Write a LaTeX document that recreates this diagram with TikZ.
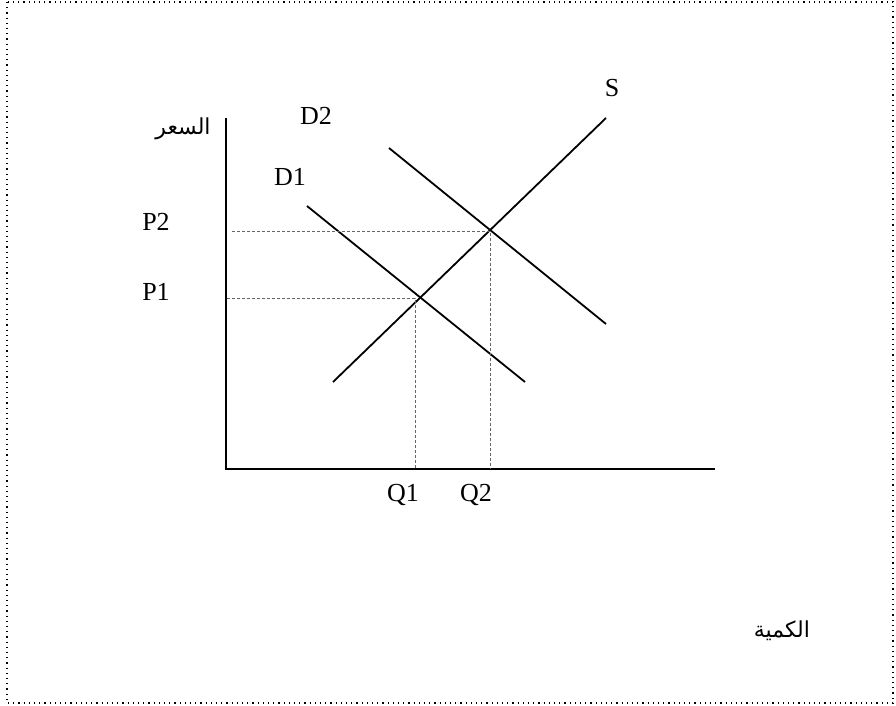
\documentclass[tikz,border=0pt]{standalone}
\usepackage{fontspec}
\setmainfont{Liberation Serif}
\newfontfamily\arabicfont[Script=Arabic]{DejaVu Sans}
\TeXXeTstate=1
\usetikzlibrary{positioning}

\begin{document}
\begin{tikzpicture}[x=0.5pt, y=-0.5pt, font=\fontsize{13}{15}\selectfont,
    axis/.style={line width=1pt},
    curve/.style={line width=0.9pt},
    guide/.style={line width=0.4pt, gray!80!black, dash pattern=on 1.5pt off 1pt},
    lbl/.style={inner sep=0pt},
    arlbl/.style={inner sep=0pt, font=\arabicfont\fontsize{11}{13}\selectfont}]
        \useasboundingbox (0,0) rectangle (896,706);
        \draw[dotted, line width=0.6pt] (7,2) rectangle (893,703);

        % axes
        \coordinate (origin) at (226,469);
        \coordinate (ytop) at (226,118);
        \coordinate (xend) at (715,469);
        \draw[axis] (ytop) -- (origin) -- (xend);
        \node[arlbl] (price) at (183,129) {\beginR السعر\endR};
        \node[arlbl] (qty) at (782,631) {\beginR الكمية\endR};

        % supply and demand
        \coordinate (s1) at (333,382);
        \coordinate (s2) at (606,118);
        \coordinate (d1a) at (307,206);
        \coordinate (d1b) at (525,382);
        \coordinate (d2a) at (389,148);
        \coordinate (d2b) at (606,324);
        \draw[curve] (s1) -- (s2);
        \draw[curve] (d1a) -- (d1b);
        \draw[curve] (d2a) -- (d2b);
        \node[lbl] (slbl) at (612,88) {S};
        \node[lbl] (d1lbl) at (290,177) {D1};
        \node[lbl] (d2lbl) at (316,116) {D2};

        % equilibria
        \coordinate (e1) at (415,298);
        \coordinate (e2) at (490,231);
        \coordinate (p1ax) at (227,298);
        \coordinate (p2ax) at (232,231);
        \coordinate (q1ax) at (415,469);
        \coordinate (q2ax) at (490,469);
        \draw[guide] (p1ax) -- (e1) -- (q1ax);
        \draw[guide] (p2ax) -- (e2) -- (q2ax);
        \node[lbl] (p1) at (156,292) {P1};
        \node[lbl] (p2) at (156,222) {P2};
        \node[lbl] (q1) at (403,495) {Q1};
        \node[lbl] (q2) at (476,495) {Q2};
    \end{tikzpicture}
\end{document}
